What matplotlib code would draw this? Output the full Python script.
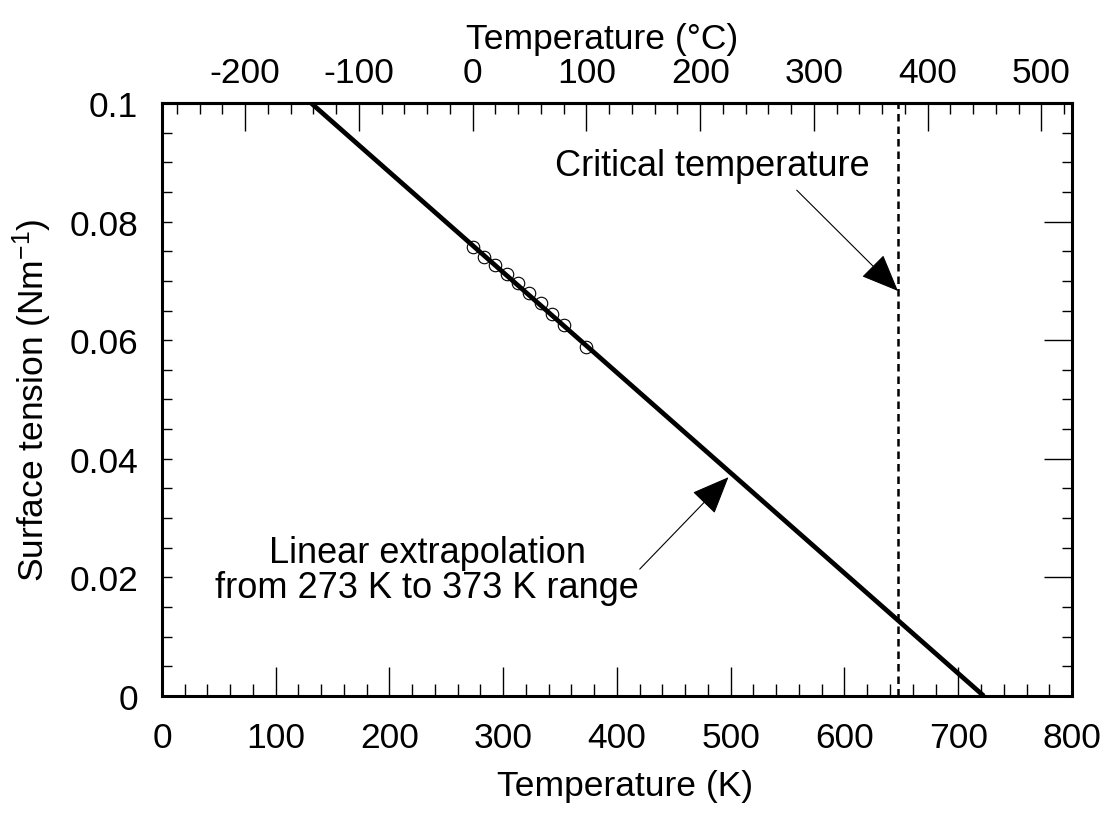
import matplotlib
matplotlib.use("Agg")
import matplotlib.pyplot as plt
from matplotlib.ticker import MultipleLocator, FixedLocator, FixedFormatter

plt.rcParams['font.family'] = ['Liberation Sans', 'DejaVu Sans']
plt.rcParams['axes.unicode_minus'] = False
plt.rcParams['mathtext.default'] = 'regular'

# Measured data (K, N/m)
temp_K = [273, 283, 293, 303, 313, 323, 333, 343, 353, 373]
sigma = [0.0757, 0.0741, 0.0727, 0.0712, 0.0696, 0.0679, 0.0662, 0.0644, 0.0626, 0.0589]
# Linear extrapolation end points
fit_T = [131, 722.5]
fit_sigma = [0.1, 0.0]
# Critical temperature
T_crit = 647

x_ticks = [0, 100, 200, 300, 400, 500, 600, 700, 800]
y_ticks = [0, 0.02, 0.04, 0.06, 0.08, 0.1]
y_labels = ['0', '0.02', '0.04', '0.06', '0.08', '0.1']
c_ticks = [-200, -100, 0, 100, 200, 300, 400, 500]

FS = 25.5

fig = plt.figure(figsize=(11.11, 8.2), dpi=100)
ax = fig.add_axes([0.1458, 0.150, 0.8191, 0.7232])

ax.plot(fit_T, fit_sigma, color='black', lw=3.4, solid_capstyle='butt', zorder=3)
ax.plot(temp_K, sigma, linestyle='none', marker='o', markersize=9,
        markerfacecolor='none', markeredgecolor='black', markeredgewidth=0.8, zorder=4)
ax.plot([T_crit, T_crit], [0, 0.1], color='black', lw=1.8, linestyle=(0, (3, 2)), zorder=3)

ax.set_xlim(0, 800)
ax.set_ylim(0, 0.1)

ax.xaxis.set_major_locator(FixedLocator(x_ticks))
ax.xaxis.set_minor_locator(MultipleLocator(20))
ax.yaxis.set_major_locator(FixedLocator(y_ticks))
ax.yaxis.set_major_formatter(FixedFormatter(y_labels))
ax.yaxis.set_minor_locator(MultipleLocator(0.005))

for s in ax.spines.values():
    s.set_linewidth(2.2)

ax.tick_params(axis='x', which='major', direction='in', length=21, width=1.0,
               labelsize=FS, pad=18, top=False)
ax.tick_params(axis='x', which='minor', direction='in', length=8.5, width=1.0, top=False)
ax.tick_params(axis='y', which='major', direction='in', length=7.5, width=1.0,
               labelsize=FS, pad=17, right=True)
ax.tick_params(axis='y', which='minor', direction='in', length=7.5, width=1.0, right=True)

# right side: longer major ticks
for t in ax.yaxis.get_major_ticks():
    t.tick2line.set_markersize(20)

ax.set_xlabel('Temperature (K)', fontsize=FS, labelpad=11)
ax.xaxis.label.set_x(0.5088)
ax.set_ylabel('Surface tension (Nm$^{-1}$)', fontsize=FS, labelpad=11)

secax = ax.secondary_xaxis('top', functions=(lambda k: k - 273.15, lambda c: c + 273.15))
secax.xaxis.set_major_locator(FixedLocator(c_ticks))
secax.xaxis.set_minor_locator(MultipleLocator(20))
secax.tick_params(axis='x', which='major', direction='in', length=20, width=1.0,
                  labelsize=FS, pad=10)
secax.tick_params(axis='x', which='minor', direction='in', length=8, width=1.0)
secax.spines['top'].set_linewidth(2.2)
secax.set_xlabel('Temperature (°C)', fontsize=FS, labelpad=6)
secax.xaxis.label.set_x(0.4835)

arrow_kw = dict(arrowstyle='-|>,head_length=0.6,head_width=0.25', mutation_scale=40,
                color='black', lw=0.8, shrinkA=0, shrinkB=0)
ax.text(484, 0.0894, 'Critical temperature', fontsize=26, ha='center', va='center')
ax.annotate('', xy=(T_crit, 0.0683), xytext=(558, 0.0853), arrowprops=arrow_kw)
ax.annotate('', xy=(498, 0.0369), xytext=(420, 0.0214), arrowprops=arrow_kw)
ax.text(233, 0.0226, 'Linear extrapolation', fontsize=26, ha='center', va='baseline')
ax.text(233, 0.0167, 'from 273 K to 373 K range', fontsize=26, ha='center', va='baseline')

fig.savefig('out.png', dpi=100)
